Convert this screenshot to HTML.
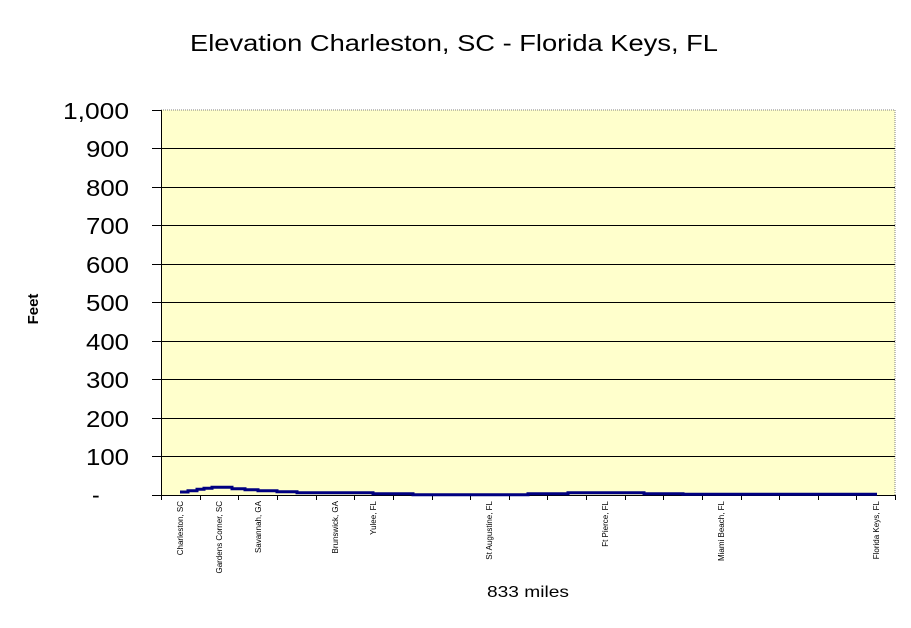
<!DOCTYPE html>
<html><head><style>
body{margin:0;background:#fff;}
svg text{font-family:"Liberation Sans",Arial,sans-serif;}
</style></head><body>
<svg width="911" height="623" xmlns="http://www.w3.org/2000/svg">
<rect x="161" y="110" width="734" height="385" fill="#ffffcc"/>
<line x1="161" y1="110" x2="895" y2="110" stroke="#808080" stroke-dasharray="1,1"/>
<line x1="895" y1="110" x2="895" y2="495" stroke="#808080" stroke-dasharray="1,1"/>
<g stroke="#000" stroke-width="1">
<line x1="152" y1="110.5" x2="161" y2="110.5"/>
<line x1="152" y1="148.5" x2="895" y2="148.5"/>
<line x1="152" y1="187.5" x2="895" y2="187.5"/>
<line x1="152" y1="225.5" x2="895" y2="225.5"/>
<line x1="152" y1="264.5" x2="895" y2="264.5"/>
<line x1="152" y1="302.5" x2="895" y2="302.5"/>
<line x1="152" y1="341.5" x2="895" y2="341.5"/>
<line x1="152" y1="379.5" x2="895" y2="379.5"/>
<line x1="152" y1="418.5" x2="895" y2="418.5"/>
<line x1="152" y1="456.5" x2="895" y2="456.5"/>
<line x1="152" y1="495.5" x2="895" y2="495.5"/>
<line x1="161.5" y1="110" x2="161.5" y2="495"/>
</g>
<g stroke="#000">
<path d="M161.5 495v5M200.5 495v5M238.5 495v5M277.5 495v5M316.5 495v5M354.5 495v5M393.5 495v5M432.5 495v5M470.5 495v5M509.5 495v5M547.5 495v5M586.5 495v5M625.5 495v5M663.5 495v5M702.5 495v5M741.5 495v5M779.5 495v5M818.5 495v5M856.5 495v5M895.5 495v5"/>
</g>
<polyline fill="none" stroke="#000080" stroke-width="3" points="180,492 188,492 188,490.7 197,490.7 197,489.3 204,489.3 204,488.2 212,488.2 212,487.3 232,487.3 232,488.7 245,488.7 245,489.7 258,489.7 258,490.7 277,490.7 277,491.7 297,491.7 297,492.7 373,492.7 373,493.7 413,493.7 413,494.7 528,494.7 528,493.7 568,493.7 568,492.7 644,492.7 644,493.7 683,493.7 683,494.3 877,494.3"/>
<g font-size="23" fill="#000" lengthAdjust="spacingAndGlyphs">
<text x="63" y="119" textLength="66" lengthAdjust="spacingAndGlyphs">1,000</text>
<text x="86" y="157" textLength="43" lengthAdjust="spacingAndGlyphs">900</text>
<text x="86" y="196" textLength="43" lengthAdjust="spacingAndGlyphs">800</text>
<text x="86" y="234" textLength="43" lengthAdjust="spacingAndGlyphs">700</text>
<text x="86" y="273" textLength="43" lengthAdjust="spacingAndGlyphs">600</text>
<text x="86" y="311" textLength="43" lengthAdjust="spacingAndGlyphs">500</text>
<text x="86" y="350" textLength="43" lengthAdjust="spacingAndGlyphs">400</text>
<text x="86" y="388" textLength="43" lengthAdjust="spacingAndGlyphs">300</text>
<text x="86" y="427" textLength="43" lengthAdjust="spacingAndGlyphs">200</text>
<text x="86" y="465" textLength="43" lengthAdjust="spacingAndGlyphs">100</text>
<text x="92" y="503">-</text>
</g>
<g font-size="8" text-anchor="end">
<text transform="translate(183,501) rotate(-90)">Charleston, SC</text>
<text transform="translate(222,501) rotate(-90)">Gardens Corner, SC</text>
<text transform="translate(261,501) rotate(-90)">Savannah, GA</text>
<text transform="translate(338,501) rotate(-90)">Brunswick, GA</text>
<text transform="translate(376,501) rotate(-90)">Yulee, FL</text>
<text transform="translate(492,501) rotate(-90)">St Augustine, FL</text>
<text transform="translate(608,501) rotate(-90)">Ft Pierce, FL</text>
<text transform="translate(724,501) rotate(-90)">Miami Beach, FL</text>
<text transform="translate(879,501) rotate(-90)">Florida Keys, FL</text>
</g>
<text x="190" y="51" font-size="23" textLength="528" lengthAdjust="spacingAndGlyphs">Elevation Charleston, SC - Florida Keys, FL</text>
<text transform="translate(38,309) rotate(-90)" font-size="15" font-weight="bold" text-anchor="middle">Feet</text>
<text x="487" y="597" font-size="16" textLength="82" lengthAdjust="spacingAndGlyphs">833 miles</text>
</svg>
</body></html>
